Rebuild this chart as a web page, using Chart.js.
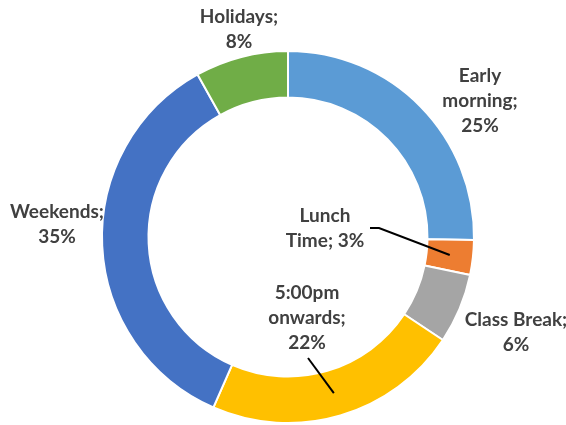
<!DOCTYPE html>
<html>
<head>
<meta charset="utf-8">
<script src="https://cdn.jsdelivr.net/npm/chart.js@4"></script>
<style>
  html, body { margin: 0; padding: 0; background: #fff; }
  #wrap { width: 566px; height: 425px; }
</style>
</head>
<body>
<div id="wrap"><canvas id="timeChart" width="566" height="425"></canvas></div>
<script>
const categories = ["Early morning", "Lunch Time", "Class Break", "5:00pm onwards", "Weekends", "Holidays"];
const shares = [25, 3, 6, 22, 35, 8];
const sliceColors = ["#5B9BD5", "#ED7D31", "#A5A5A5", "#FFC000", "#4472C4", "#70AD47"];

// how each data label is split over lines
const labelLines = [
  ["Early", "morning;", "25%"],
  ["Lunch", "Time; 3%"],
  ["Class Break;", "6%"],
  ["5:00pm", "onwards;", "22%"],
  ["Weekends;", "35%"],
  ["Holidays;", "8%"],
];
// label block centre, relative to the ring centre
const labelOffsets = [[192, -136], [37, -9], [228, 95], [19, 81], [-231, -13], [-49, -208]];
// leader line start points (relative to centre); null = no leader
const leaderStarts = [null, [[82, -9], [91, -9]], null, [[20, 121]], null, null];

const dataLabels = {
  id: "dataLabels",
  afterDatasetsDraw(chart) {
    const ctx = chart.ctx;
    const arcs = chart.getDatasetMeta(0).data;
    ctx.save();
    arcs.forEach((arc, i) => {
      const cx = arc.x, cy = arc.y;
      const mid = (arc.startAngle + arc.endAngle) / 2;
      const r = (arc.innerRadius + arc.outerRadius) / 2;
      const pts = leaderStarts[i];
      if (pts) {
        ctx.strokeStyle = "#000";
        ctx.lineWidth = 2;
        ctx.beginPath();
        ctx.moveTo(cx + pts[0][0], cy + pts[0][1]);
        pts.slice(1).forEach(p => ctx.lineTo(cx + p[0], cy + p[1]));
        ctx.lineTo(cx + Math.cos(mid) * r, cy + Math.sin(mid) * r);
        ctx.stroke();
      }
      const lines = labelLines[i];
      const lh = 25;
      const bx = cx + labelOffsets[i][0];
      const by = cy + labelOffsets[i][1] - (lines.length - 1) * lh / 2;
      ctx.fillStyle = "#404040";
      ctx.font = "bold 19px Lato";
      ctx.textAlign = "center";
      ctx.textBaseline = "middle";
      lines.forEach((t, k) => ctx.fillText(t, bx, by + k * lh));
    });
    ctx.restore();
  }
};

new Chart(document.getElementById("timeChart"), {
  type: "doughnut",
  data: {
    labels: categories,
    datasets: [{
      data: shares,
      backgroundColor: sliceColors,
      borderColor: "#fff",
      borderWidth: 2,
    }],
  },
  options: {
    responsive: false,
    animation: false,
    cutout: "75%",
    layout: { padding: { top: 50, bottom: 1, left: 10, right: 0 } },
    plugins: {
      legend: { display: false },
      tooltip: { enabled: false },
    },
  },
  plugins: [dataLabels],
});
</script>
</body>
</html>
